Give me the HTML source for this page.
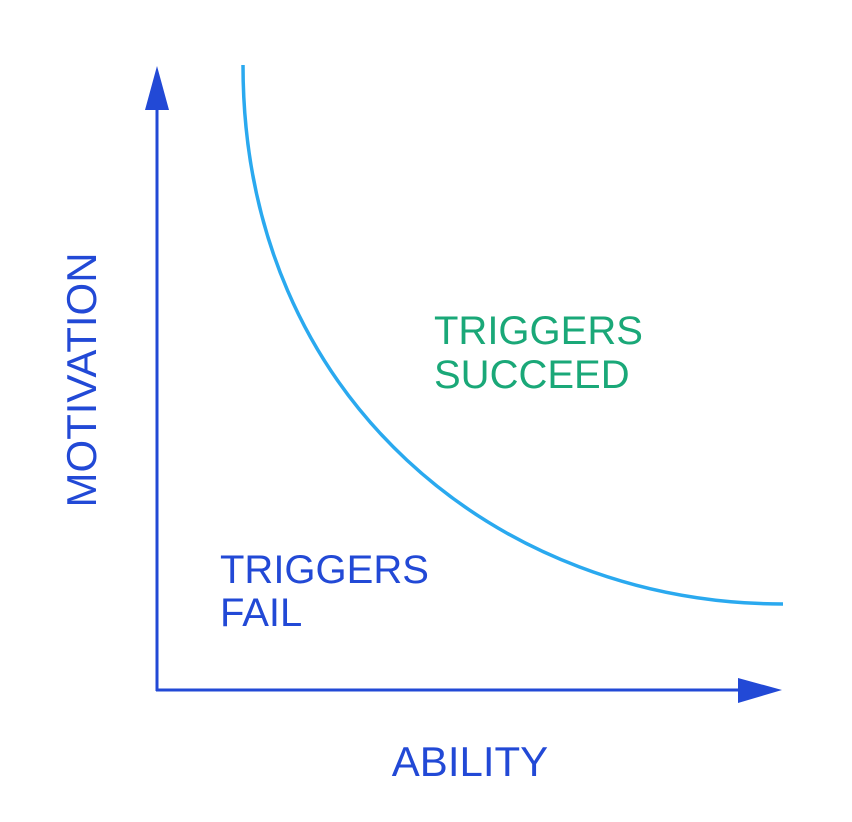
<!DOCTYPE html>
<html><head><meta charset="utf-8"><style>
html,body{margin:0;padding:0;background:#fff;}
svg{display:block;font-family:"Liberation Sans",sans-serif;}
</style></head><body>
<svg id="chart" width="852" height="822" viewBox="0 0 852 822">
<g id="axes">
<line x1="157" y1="691" x2="157" y2="100" stroke="#2249d6" stroke-width="3"/>
<polygon points="157,66 145,110 169,110" fill="#2249d6"/>
<line x1="156" y1="690" x2="745" y2="690" stroke="#2249d6" stroke-width="3"/>
<polygon points="782,690 738,678 738,703" fill="#2249d6"/>
</g>
<path id="curve" fill="none" stroke="#2aa9ef" stroke-width="3.5"/>
<text fill="#1aa878" font-size="40"><tspan x="434" y="344">TRIGGERS</tspan><tspan x="434" y="388">SUCCEED</tspan></text>
<text fill="#2249d6" font-size="40"><tspan x="220" y="583">TRIGGERS</tspan><tspan x="220" y="626">FAIL</tspan></text>
<text fill="#2249d6" font-size="42" x="470" y="776" text-anchor="middle">ABILITY</text>
<text fill="#2249d6" font-size="42" text-anchor="middle" transform="translate(96,380) rotate(-90)">MOTIVATION</text>
</svg>
<script>
// curve as cubic bezier in axis units: start, control 1, control 2, end
const abilityValues = [86, 86, 343, 626];
const motivationValues = [625, 290, 86, 86];
const x0 = 157, y0 = 690;
function xScale(v){ return x0 + v; }
function yScale(v){ return y0 - v; }
const pts = abilityValues.map((a,i)=>[xScale(a), yScale(motivationValues[i])]);
const d = 'M' + pts[0].join(',') + ' C' + pts[1].join(',') + ' ' + pts[2].join(',') + ' ' + pts[3].join(',');
document.getElementById('curve').setAttribute('d', d);
</script>
</body></html>
